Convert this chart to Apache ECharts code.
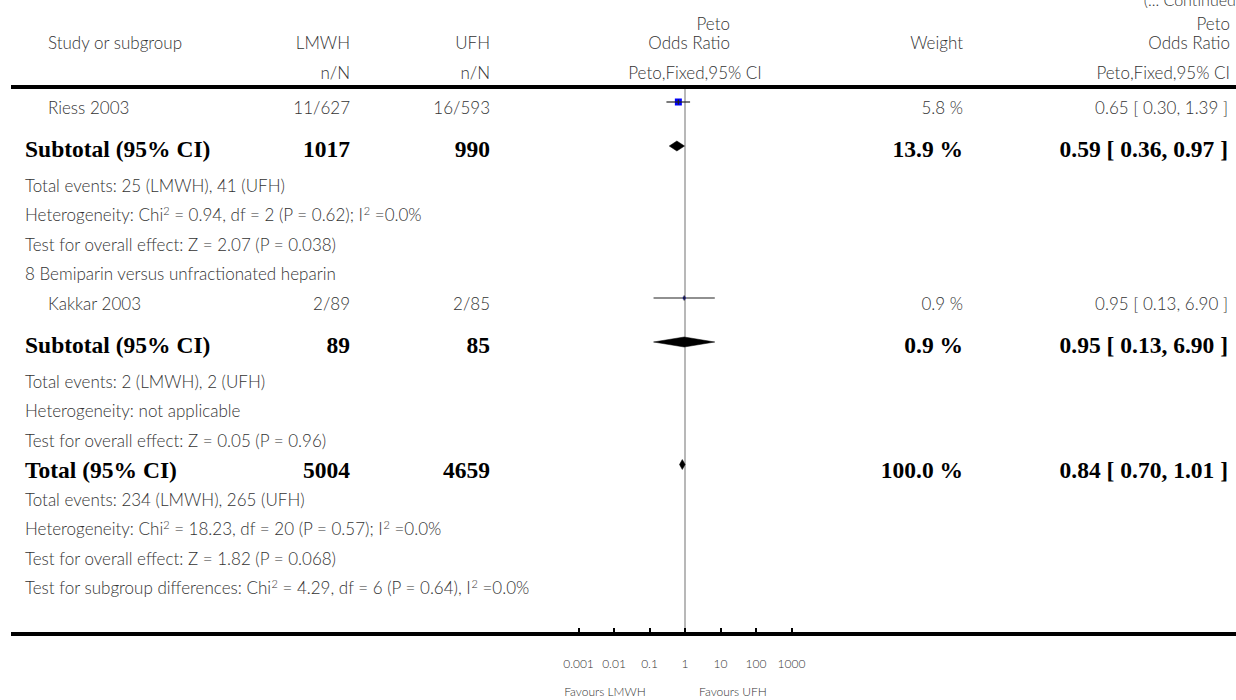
<!DOCTYPE html>
<html><head><meta charset="utf-8">
<script src="https://cdn.jsdelivr.net/npm/echarts@6/dist/echarts.min.js"></script>
<style>html,body{margin:0;padding:0;background:#fff}#c{width:1236px;height:700px}</style>
</head><body><div id="c"></div>
<script>
// ---------------- DATA ----------------
const studyNames = ['Riess 2003', 'Kakkar 2003'];
const studyLmwhEvents = [11, 2];
const studyLmwhTotal = [627, 89];
const studyUfhEvents = [16, 2];
const studyUfhTotal = [593, 85];
const studyWeight = [5.8, 0.9];
const studyOR = [0.65, 0.95];
const studyLow = [0.30, 0.13];
const studyHigh = [1.39, 6.90];

const groupHeadings = ['', '8 Bemiparin versus unfractionated heparin'];
const subLmwhTotal = [1017, 89];
const subUfhTotal = [990, 85];
const subWeight = [13.9, 0.9];
const subOR = [0.59, 0.95];
const subLow = [0.36, 0.13];
const subHigh = [0.97, 6.90];
const subNotes = [
  ['Total events: 25 (LMWH), 41 (UFH)',
   'Heterogeneity: Chi{sup|2} = 0.94, df = 2 (P = 0.62); I{sup|2} =0.0%',
   'Test for overall effect: Z = 2.07 (P = 0.038)'],
  ['Total events: 2 (LMWH), 2 (UFH)',
   'Heterogeneity: not applicable',
   'Test for overall effect: Z = 0.05 (P = 0.96)']
];
const totalLmwh = 5004;
const totalUfh = 4659;
const totalWeight = 100.0;
const totalOR = 0.84;
const totalLow = 0.70;
const totalHigh = 1.01;
const totalNotes = [
  'Total events: 234 (LMWH), 265 (UFH)',
  'Heterogeneity: Chi{sup|2} = 18.23, df = 20 (P = 0.57); I{sup|2} =0.0%',
  'Test for overall effect: Z = 1.82 (P = 0.068)',
  'Test for subgroup differences: Chi{sup|2} = 4.29, df = 6 (P = 0.64), I{sup|2} =0.0%'
];
const tickValues = [0.001, 0.01, 0.1, 1, 10, 100, 1000];
const tickLabels = ['0.001', '0.01', '0.1', '1', '10', '100', '1000'];
const favoursLabels = ['Favours LMWH', 'Favours UFH'];

// ---------------- LAYOUT / STYLE ----------------
const LIGHT = 'Lato';
const SERIF = 'Liberation Serif';
const TXT = '#333';
const FS = 17;
const BFS = 23.5;
const X_NAME = 48, X_NOTE = 25, X_LMWH = 350, X_UFH = 490, X_W = 963, X_CI = 1228;
const RULE_Y = 87, AXIS_Y = 634;

// Build row sequence
const rows = [];
for (let g = 0; g < studyNames.length; g++) {
  if (groupHeadings[g]) rows.push({kind: 'heading', text: groupHeadings[g]});
  rows.push({kind: 'study', i: g});
  rows.push({kind: 'subtotal', i: g});
  subNotes[g].forEach(t => rows.push({kind: 'note', text: t}));
}
rows.push({kind: 'total'});
totalNotes.forEach(t => rows.push({kind: 'note', text: t}));

let y = 107;
rows.forEach((r, k) => {
  if (k > 0) {
    const prev = rows[k - 1];
    y += (r.kind === 'subtotal') ? 42 : (prev.kind === 'subtotal' ? 36 : 29.5);
  }
  r.y = y;
});

const supRich = {sup: {fontSize: 11, lineHeight: 11, verticalAlign: 'top', fontFamily: LIGHT, fontWeight: 300, fill: TXT}};

function txt(text, x, yy, align, opts) {
  opts = opts || {};
  return {
    type: 'text', x: x, y: yy, silent: true,
    style: Object.assign({
      text: text, align: align, verticalAlign: 'middle',
      fontFamily: LIGHT, fontWeight: 300, fontSize: FS, fill: TXT,
      lineHeight: 19, rich: supRich
    }, opts)
  };
}
function btxt(text, x, yy, align) {
  return txt(text, x, yy, align, {fontFamily: SERIF, fontWeight: 'bold', fontSize: BFS, fill: '#000', lineHeight: 26});
}
const f2 = v => v.toFixed(2);
const ciText = (o, l, h) => `${f2(o)} [ ${f2(l)}, ${f2(h)} ]`;

const graphics = [];
// header
graphics.push(txt('(... Continued)', 1240, 9, 'right', {verticalAlign: 'bottom', fontSize: 16}));
graphics.push(txt('Study or subgroup', X_NAME, 42, 'left'));
graphics.push(txt('LMWH', X_LMWH, 42, 'right'));
graphics.push(txt('UFH', X_UFH, 42, 'right'));
graphics.push(txt('n/N', X_LMWH, 72, 'right'));
graphics.push(txt('n/N', X_UFH, 72, 'right'));
graphics.push(txt('Peto', 730, 23, 'right'));
graphics.push(txt('Odds Ratio', 730, 42, 'right'));
graphics.push(txt('Peto,Fixed,95% CI', 695, 72, 'center'));
graphics.push(txt('Weight', X_W, 42, 'right'));
graphics.push(txt('Peto', 1230, 23, 'right'));
graphics.push(txt('Odds Ratio', 1230, 42, 'right'));
graphics.push(txt('Peto,Fixed,95% CI', 1230, 72, 'right'));
// rules
graphics.push({type: 'line', silent: true, z: -1, shape: {x1: 11, y1: RULE_Y, x2: 1236, y2: RULE_Y}, style: {stroke: '#000', lineWidth: 4}});
graphics.push({type: 'line', silent: true, z: -1, shape: {x1: 11, y1: AXIS_Y, x2: 1236, y2: AXIS_Y}, style: {stroke: '#000', lineWidth: 4}});
// favours
graphics.push(txt(favoursLabels[0], 605, 691, 'center', {fontSize: 12}));
graphics.push(txt(favoursLabels[1], 733, 691, 'center', {fontSize: 12}));

const markData = [];
rows.forEach(r => {
  if (r.kind === 'heading' || r.kind === 'note') {
    graphics.push(txt(r.text, X_NOTE, r.y, 'left'));
  } else if (r.kind === 'study') {
    const i = r.i;
    graphics.push(txt(studyNames[i], X_NAME, r.y, 'left'));
    graphics.push(txt(`${studyLmwhEvents[i]}/${studyLmwhTotal[i]}`, X_LMWH, r.y, 'right'));
    graphics.push(txt(`${studyUfhEvents[i]}/${studyUfhTotal[i]}`, X_UFH, r.y, 'right'));
    graphics.push(txt(`${studyWeight[i].toFixed(1)} %`, X_W, r.y, 'right'));
    graphics.push(txt(ciText(studyOR[i], studyLow[i], studyHigh[i]), X_CI, r.y, 'right'));
    markData.push([studyOR[i], studyLow[i], studyHigh[i], r.y - 5, 0, studyWeight[i]]);
  } else if (r.kind === 'subtotal') {
    const i = r.i;
    graphics.push(btxt('Subtotal (95% CI)', X_NOTE, r.y, 'left'));
    graphics.push(btxt(String(subLmwhTotal[i]), X_LMWH, r.y, 'right'));
    graphics.push(btxt(String(subUfhTotal[i]), X_UFH, r.y, 'right'));
    graphics.push(btxt(`${subWeight[i].toFixed(1)} %`, X_W, r.y, 'right'));
    graphics.push(btxt(ciText(subOR[i], subLow[i], subHigh[i]), X_CI, r.y, 'right'));
    markData.push([subOR[i], subLow[i], subHigh[i], r.y - 3, 1, subWeight[i]]);
  } else if (r.kind === 'total') {
    graphics.push(btxt('Total (95% CI)', X_NOTE, r.y, 'left'));
    graphics.push(btxt(String(totalLmwh), X_LMWH, r.y, 'right'));
    graphics.push(btxt(String(totalUfh), X_UFH, r.y, 'right'));
    graphics.push(btxt(`${totalWeight.toFixed(1)} %`, X_W, r.y, 'right'));
    graphics.push(btxt(ciText(totalOR, totalLow, totalHigh), X_CI, r.y, 'right'));
    markData.push([totalOR, totalLow, totalHigh, r.y - 5, 1, totalWeight]);
  }
});

function renderMark(params, api) {
  const or = api.value(0), lo = api.value(1), hi = api.value(2), yy = api.value(3), kind = api.value(4), w = api.value(5);
  const pC = api.coord([or, yy]);
  const pL = api.coord([lo, yy]);
  const pH = api.coord([hi, yy]);
  if (kind === 1) {
    const hh = 5;
    return {type: 'polygon', shape: {points: [[pL[0], pC[1]], [pC[0], pC[1] - hh], [pH[0], pC[1]], [pC[0], pC[1] + hh]]},
      style: {fill: '#000', stroke: '#000', lineWidth: 0.5}};
  }
  const s = 7 * Math.sqrt(w / 5.8);
  return {type: 'group', children: [
    {type: 'rect', shape: {x: pC[0] - s / 2, y: pC[1] - s / 2, width: s, height: s}, style: {fill: '#0000ff'}},
    {type: 'line', shape: {x1: pL[0], y1: pC[1], x2: pH[0], y2: pC[1]}, style: {stroke: '#222', lineWidth: 1.2}},
    {type: 'line', shape: {x1: pC[0], y1: pC[1] - 2.5, x2: pC[0], y2: pC[1] + 2.5}, style: {stroke: '#222', lineWidth: 1.2}}
  ]};
}

const chart = echarts.init(document.getElementById('c'), null, {renderer: 'svg'});
chart.setOption({
  animation: false,
  backgroundColor: '#fff',
  grid: {left: 578.5, width: 213, top: 0, height: AXIS_Y, containLabel: false},
  xAxis: {
    type: 'log', logBase: 10, min: tickValues[0], max: tickValues[tickValues.length - 1], splitNumber: 6,
    position: 'bottom',
    axisLine: {show: true, onZero: false, lineStyle: {color: '#000', width: 4}},
    axisTick: {show: true, inside: true, length: 6, lineStyle: {color: '#000', width: 2}},
    splitLine: {show: false},
    z: 5,
    axisLabel: {
      margin: 23, fontSize: 12, fontFamily: LIGHT, fontWeight: 300, color: TXT,
      formatter: v => {
        const k = tickValues.findIndex(t => Math.abs(Math.log10(t) - Math.log10(v)) < 1e-6);
        return k >= 0 ? tickLabels[k] : '';
      }
    }
  },
  yAxis: {type: 'value', min: 0, max: AXIS_Y, inverse: true, show: false},
  series: [
    {type: 'line', silent: true, symbol: 'none', z: 1,
     lineStyle: {color: '#a0a0a0', width: 1.5},
     data: [[1, RULE_Y + 2], [1, AXIS_Y]]},
    {type: 'custom', silent: true, z: 3, renderItem: renderMark, data: markData}
  ],
  graphic: graphics
});
</script>
</body></html>
